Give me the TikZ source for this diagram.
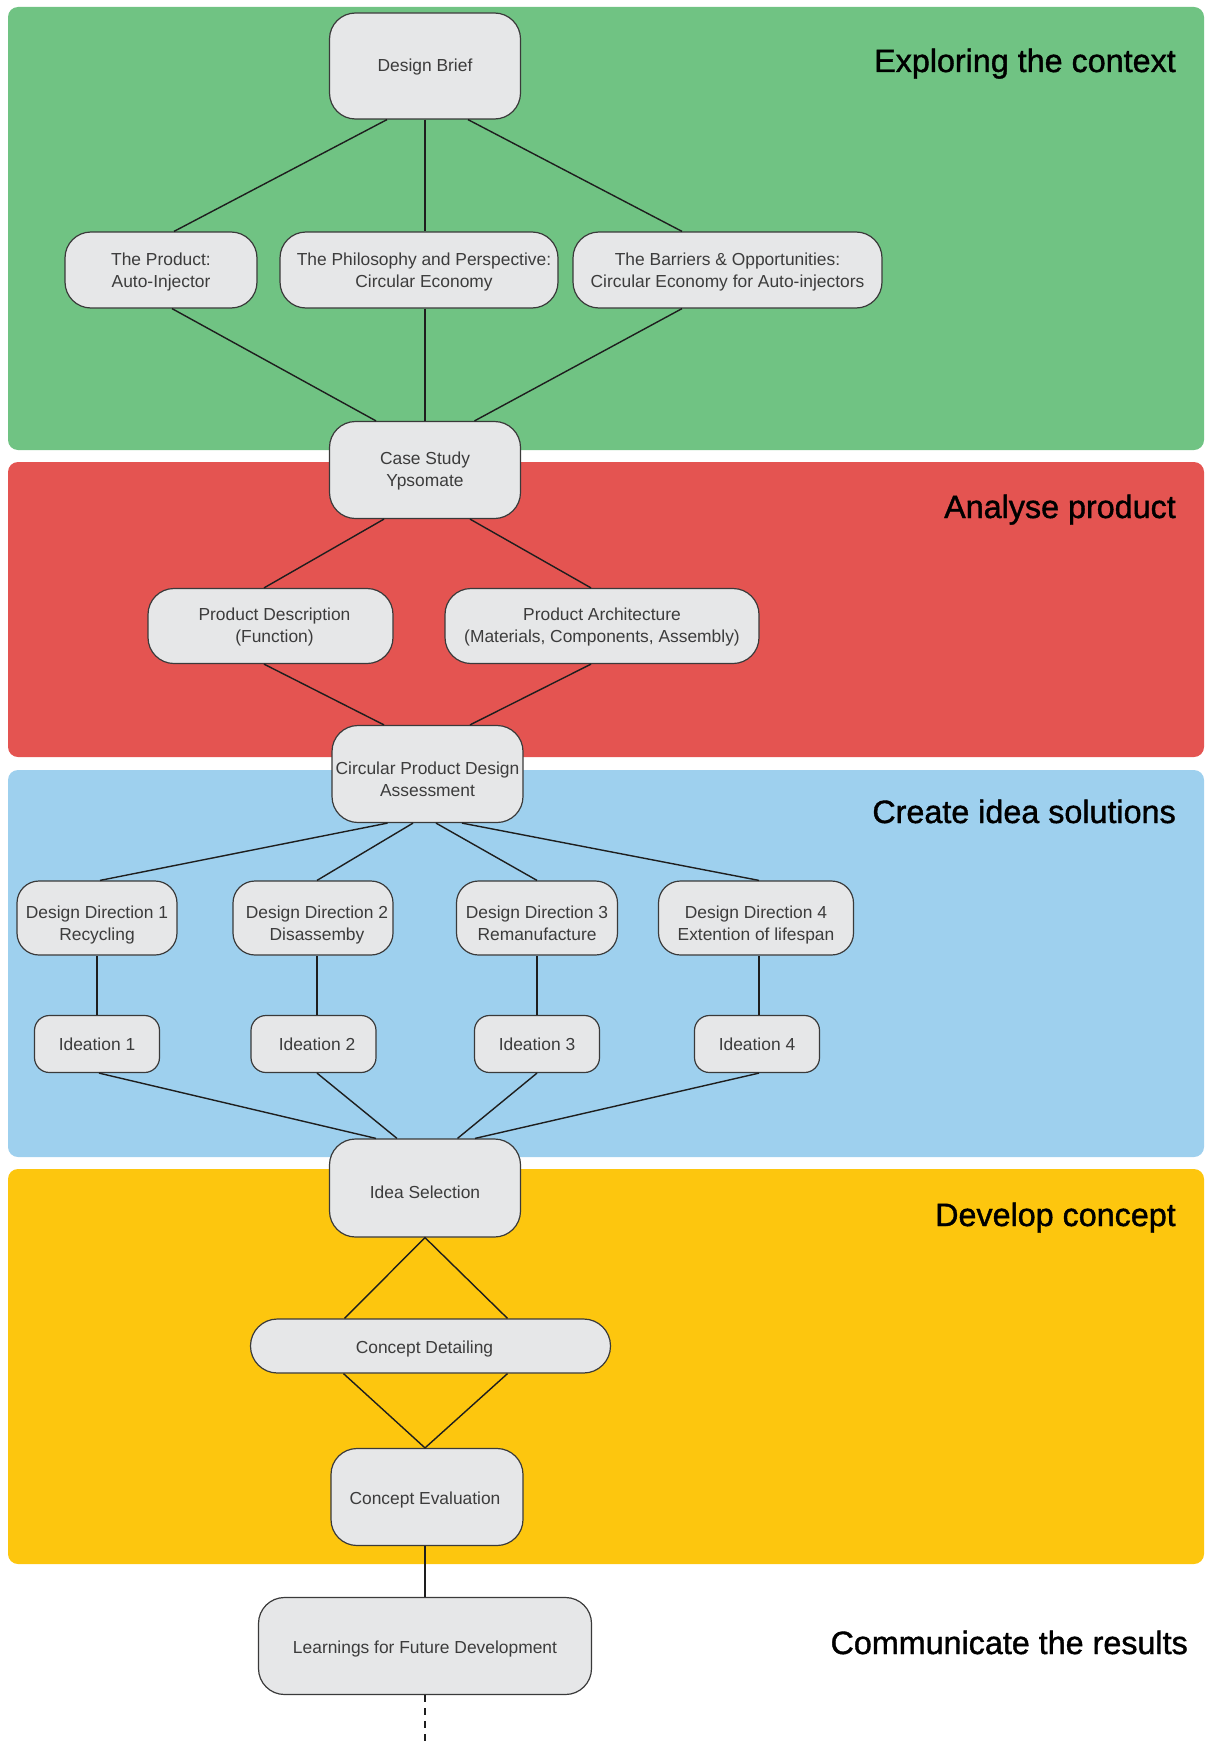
\documentclass[tikz,border=0pt]{standalone}
\usepackage{fontspec}
\setmainfont{Liberation Sans}
\newfontfamily\headfamily[FakeBold=1.2]{Liberation Sans}
\usetikzlibrary{calc}

\definecolor{bandgreen}{HTML}{70C383}
\definecolor{bandred}{HTML}{E45451}
\definecolor{bandblue}{HTML}{9ED0EE}
\definecolor{bandyellow}{HTML}{FDC60E}
\definecolor{boxfill}{HTML}{E6E7E8}
\definecolor{boxline}{HTML}{3A3A3A}
\definecolor{boxtext}{HTML}{3C3C3C}
\definecolor{linkcol}{HTML}{1E1E1E}

% box text: 17.4pt with a matching strut so tabular rows are 21.5pt apart
\newcommand\boxfont{\fontsize{17.4}{21.5}\selectfont
  \setbox\strutbox\hbox{\vrule height 15pt depth 6.5pt width 0pt}}
\newcommand\headfont{\headfamily\fontsize{32.3}{38}\selectfont}
% centred lines of box text, nudged by (#1 right, #2 down) without changing the box size
\newcommand\boxlines[3]{\hspace*{#1}\raisebox{-#2}[\height][\depth]{%
  \begin{tabular}{@{}c@{}}#3\end{tabular}}\hspace*{-#1}}

\begin{document}
\begin{tikzpicture}[x=1pt,y=-1pt,
  box/.style={draw=boxline, fill=boxfill, line width=1.2pt, rounded corners=22pt,
              inner sep=0pt, font=\boxfont, text=boxtext},
  bigbox/.style={box, minimum width=191pt, minimum height=97pt, rounded corners=26pt},
  tierbox/.style={box, minimum height=76pt, rounded corners=26pt},
  dirbox/.style={box, minimum width=160pt, minimum height=74pt, rounded corners=22pt},
  ideabox/.style={box, minimum width=125pt, minimum height=57pt, rounded corners=15pt},
  band/.style={rounded corners=10pt},
  head/.style={anchor=base east, inner sep=0pt, font=\headfont, text=black},
  conn/.style={draw=linkcol, line width=1.4pt}]

\useasboundingbox (0,0) rectangle (1205,1742);

% phase bands
\fill[band, bandgreen]  (8,7)    rectangle (1204,450);
\fill[band, bandred]    (8,462)  rectangle (1204,757);
\fill[band, bandblue]   (8,770)  rectangle (1204,1157);
\fill[band, bandyellow] (8,1169) rectangle (1204,1564);

% phase titles
\node[head] (h1) at (1176,72)   {Exploring the context};
\node[head] (h2) at (1176,518)  {Analyse product};
\node[head] (h3) at (1176,823)  {Create idea solutions};
\node[head] (h4) at (1176,1226) {Develop concept};
\node[head] (h5) at (1188,1654) {Communicate the results};

% exploring the context
\node[bigbox, minimum height=106pt] (db) at (425,66) {\boxlines{0pt}{1pt}{Design Brief}};
\node[tierbox, minimum width=192pt] (prod) at (161,270) {\boxlines{0pt}{2pt}{The Product:\\Auto-Injector}};
\node[tierbox, minimum width=278pt] (phil) at (419,270) {\boxlines{5pt}{2pt}{The Philosophy and Perspective:\\Circular Economy}};
\node[tierbox, minimum width=309pt] (barr) at (727.5,270) {\boxlines{0pt}{2pt}{The Barriers \& Opportunities:\\Circular Economy for Auto-injectors}};
\node[bigbox] (cs) at (425,470) {\boxlines{0pt}{1pt}{Case Study\\Ypsomate}};

% analyse product
\node[tierbox, minimum width=245pt, minimum height=75pt] (pdesc) at (270.5,626) {\boxlines{4pt}{1pt}{Product Description\\(Function)}};
\node[tierbox, minimum width=314pt, minimum height=75pt] (parch) at (602,626) {\boxlines{0pt}{1pt}{Product Architecture\\(Materials, Components, Assembly)}};
\node[bigbox] (cpda) at (427.5,774) {\boxlines{0pt}{7pt}{Circular Product Design\\Assessment}};

% create idea solutions
\node[dirbox] (dd1) at (97,918)  {\boxlines{0pt}{7pt}{Design Direction 1\\Recycling}};
\node[dirbox] (dd2) at (313,918) {\boxlines{4pt}{7pt}{Design Direction 2\\Disassemby}};
\node[dirbox, minimum width=161pt] (dd3) at (537,918) {\boxlines{0pt}{7pt}{Design Direction 3\\Remanufacture}};
\node[dirbox, minimum width=195pt] (dd4) at (756,918) {\boxlines{0pt}{7pt}{Design Direction 4\\Extention of lifespan}};
\node[ideabox] (i1) at (97,1044)    {\boxlines{0pt}{2pt}{Ideation 1}};
\node[ideabox] (i2) at (313.5,1044) {\boxlines{3.5pt}{2pt}{Ideation 2}};
\node[ideabox] (i3) at (537,1044)   {\boxlines{0pt}{2pt}{Ideation 3}};
\node[ideabox] (i4) at (757,1044)   {\boxlines{0pt}{2pt}{Ideation 4}};

% develop concept
\node[bigbox, minimum height=98pt] (is) at (425,1188) {\boxlines{0pt}{6.5pt}{Idea Selection}};
\node[box, minimum width=360pt, minimum height=54pt, rounded corners=26.9pt] (cd) at (430.5,1346) {\boxlines{-6pt}{3pt}{Concept Detailing}};
\node[bigbox, minimum width=192pt] (ce) at (427,1497) {\boxlines{-2pt}{3pt}{Concept Evaluation}};

% communicate the results
\node[bigbox, minimum width=333pt] (lfd) at (425,1646) {\boxlines{0pt}{3pt}{Learnings for Future Development}};
\coordinate (tail) at (425,1742);

% links
\draw[conn] ([xshift=-38pt]db.south) -- ([xshift=13pt]prod.north);
\draw[conn] (db.south) -- ([xshift=6pt]phil.north);
\draw[conn] ([xshift=43pt]db.south) -- ([xshift=-45.5pt]barr.north);
\draw[conn] ([xshift=11pt]prod.south) -- ([xshift=-49pt]cs.north);
\draw[conn] ([xshift=6pt]phil.south) -- (cs.north);
\draw[conn] ([xshift=-45.5pt]barr.south) -- ([xshift=49.5pt]cs.north);

\draw[conn] ([xshift=-41pt]cs.south) -- ([xshift=-6.5pt]pdesc.north);
\draw[conn] ([xshift=45pt]cs.south) -- ([xshift=-11pt]parch.north);
\draw[conn] ([xshift=-6.5pt]pdesc.south) -- ([xshift=-43.5pt]cpda.north);
\draw[conn] ([xshift=-11pt]parch.south) -- ([xshift=42.5pt]cpda.north);

\draw[conn] ([xshift=-40pt]cpda.south) -- ([xshift=3pt]dd1.north);
\draw[conn] ([xshift=-14.5pt]cpda.south) -- ([xshift=4pt]dd2.north);
\draw[conn] ([xshift=8.5pt]cpda.south) -- (dd3.north);
\draw[conn] ([xshift=34.5pt]cpda.south) -- ([xshift=3pt]dd4.north);

\draw[conn] (i1.north) -- (i1.north |- dd1.south);
\draw[conn] ([xshift=3.5pt]i2.north) -- ([xshift=3.5pt]i2.north |- dd2.south);
\draw[conn] (i3.north) -- (i3.north |- dd3.south);
\draw[conn] ([xshift=2pt]i4.north) -- ([xshift=2pt]i4.north |- dd4.south);

\draw[conn] ([xshift=2pt]i1.south) -- ([xshift=-49pt]is.north);
\draw[conn] ([xshift=3.5pt]i2.south) -- ([xshift=-28pt]is.north);
\draw[conn] (i3.south) -- ([xshift=32.5pt]is.north);
\draw[conn] ([xshift=2pt]i4.south) -- ([xshift=50pt]is.north);

\draw[conn] ([xshift=-86pt]cd.north) -- (is.south) -- ([xshift=77pt]cd.north);
\draw[conn] ([xshift=-87pt]cd.south) -- ([xshift=-2pt]ce.north) -- ([xshift=77pt]cd.south);
\draw[conn] (lfd.north) -- (lfd.north |- ce.south);
\draw[conn, dash pattern=on 7pt off 6pt] (lfd.south) -- (tail);

\end{tikzpicture}
\end{document}
